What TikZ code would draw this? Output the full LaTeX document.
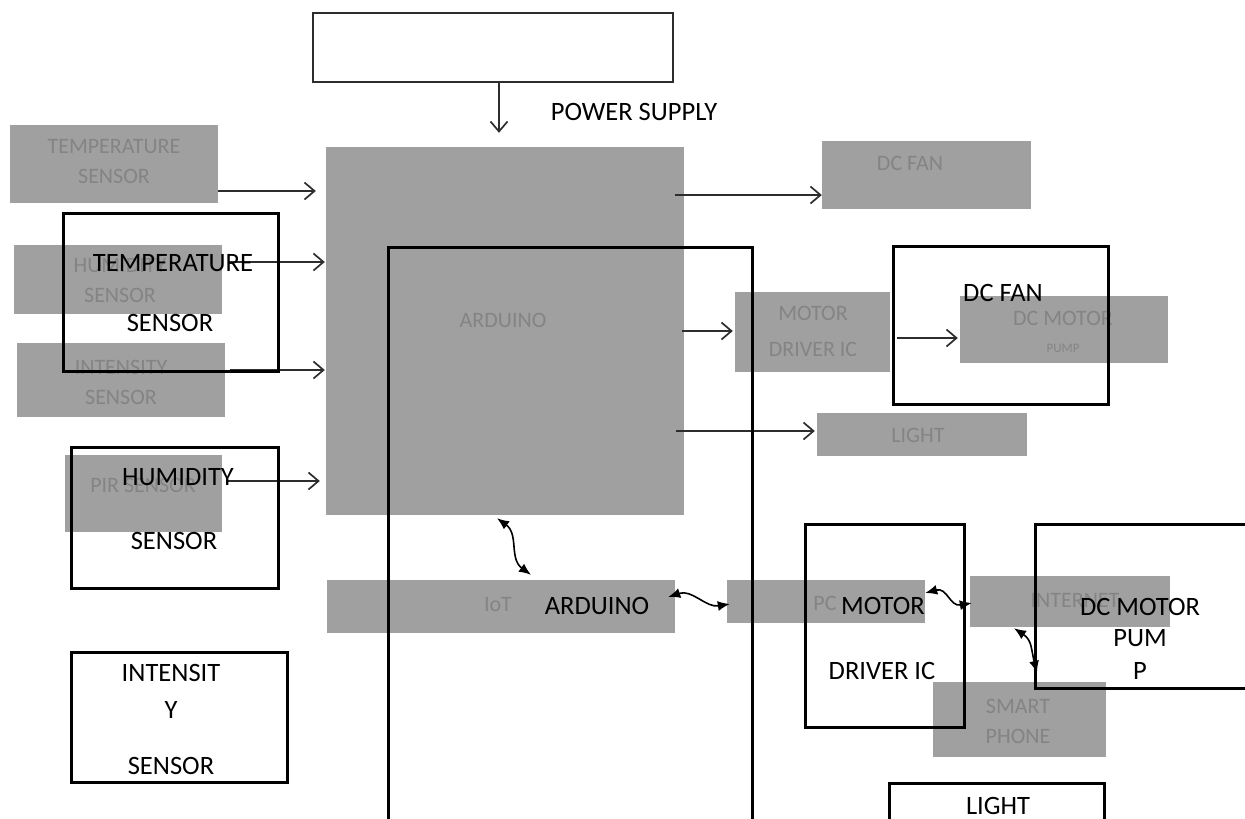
\documentclass[tikz,border=0pt]{standalone}
\usepackage{fontspec}
\setmainfont{Carlito}
\usetikzlibrary{arrows.meta}
\definecolor{gfill}{RGB}{160,160,160}
\definecolor{gtext}{RGB}{132,132,132}
\definecolor{arrcol}{RGB}{45,45,45}
\tikzset{
  gbox/.style={rectangle, fill=gfill, draw=none, inner sep=0pt, anchor=center},
  gtxt/.style={text=gtext, font=\fontsize{22}{30}\selectfont, align=center, inner sep=0pt},
  obox/.style={rectangle, draw=black, line width=3pt, fill=none, inner sep=0pt},
  btxt/.style={text=black, font=\fontsize{26.5}{30}\selectfont, inner sep=0pt},
  arr/.style={draw=arrcol, line width=1.7pt, -{Straight Barb[length=10pt,width=17pt,line width=1.7pt]}},
  darr/.style={draw=black, line width=1.6pt, {Latex[length=12pt,width=10pt]}-{Latex[length=12pt,width=10pt]}},
}
\begin{document}
\begin{tikzpicture}[x=1pt,y=-1pt]
\useasboundingbox (0,0) rectangle (1245,819);
\clip (0,0) rectangle (1245,819);
% gray (blurred) blocks
\node[gbox, minimum width=208pt, minimum height=78pt] (tempG) at (114,164) {};
\node[gbox, minimum width=208pt, minimum height=69pt] (humG) at (118,279.5) {};
\node[gbox, minimum width=208pt, minimum height=74pt] (intG) at (121,380) {};
\node[gbox, minimum width=157pt, minimum height=77pt] (pirG) at (143.5,493.5) {};
\node[gbox, minimum width=358pt, minimum height=368pt] (arduG) at (505,331) {};
\node[gbox, minimum width=209pt, minimum height=68pt] (fanG) at (926.5,175) {};
\node[gbox, minimum width=155pt, minimum height=80pt] (mdG) at (812.5,332) {};
\node[gbox, minimum width=208pt, minimum height=67pt] (pumpG) at (1064,329.5) {};
\node[gbox, minimum width=210pt, minimum height=43pt] (lightG) at (922,434.5) {};
\node[gbox, minimum width=348pt, minimum height=53pt] (iotG) at (501,606.5) {};
\node[gbox, minimum width=198pt, minimum height=43pt] (pcG) at (826,601.5) {};
\node[gbox, minimum width=200pt, minimum height=51pt] (netG) at (1070,601.5) {};
\node[gbox, minimum width=173pt, minimum height=75pt] (phoneG) at (1019.5,719.5) {};
% gray labels
\node[gtxt] (tempGt) at (114,162) {TEMPERATURE\\SENSOR};
\node[gtxt] (humGt) at (120,281) {HUMIDITY\\SENSOR};
\node[gtxt] (intGt) at (121,382) {INTENSITY\\SENSOR};
\node[gtxt] (pirGt) at (143,485) {PIR SENSOR};
\node[gtxt] (arduGt) at (503,320) {ARDUINO};
\node[gtxt] (fanGt) at (910,163) {DC FAN};
\node[gtxt, font=\fontsize{22}{36}\selectfont] (mdGt) at (813,331) {MOTOR\\DRIVER IC};
\node[gtxt] (pumpGt1) at (1063,318) {DC MOTOR};
\node[gtxt, font=\fontsize{13}{14}\selectfont] (pumpGt2) at (1063,348) {PUMP};
\node[gtxt] (lightGt) at (918,435) {LIGHT};
\node[gtxt] (iotGt) at (498,605) {IoT};
\node[gtxt] (pcGt) at (825,603) {PC};
\node[gtxt] (netGt) at (1075,600) {INTERNET};
\node[gtxt] (phoneGt) at (1018,721) {SMART\\PHONE};
% power supply box
\node[rectangle, draw=arrcol, line width=1.5pt, minimum width=360pt, minimum height=69pt, inner sep=0pt] (psO) at (493,47.5) {};
% straight arrows
\draw[arr] ([xshift=6]psO.south) -- ([xshift=-6,yshift=14]arduG.north);
\draw[arr] ([yshift=-27]tempG.east) -- ([xshift=-10,yshift=140]arduG.west);
\draw[arr] ([xshift=6,yshift=17.5]humG.east) -- ([xshift=-1,yshift=69]arduG.west);
\draw[arr] ([xshift=5,yshift=10]intG.east) -- ([xshift=-1,yshift=-39]arduG.west);
\draw[arr] ([xshift=6,yshift=12.5]pirG.east) -- ([xshift=-6,yshift=-150]arduG.west);
\draw[arr] ([xshift=-9,yshift=136]arduG.east) -- ([yshift=-20]fanG.west);
\draw[arr] ([xshift=-2]arduG.east) -- ([xshift=-2,yshift=1]mdG.west);
\draw[arr] ([xshift=-8,yshift=-100]arduG.east) -- ([xshift=-2,yshift=3.5]lightG.west);
\draw[arr] ([xshift=7,yshift=-6]mdG.east) -- ([xshift=-2,yshift=-8.5]pumpG.west);
% wavy double arrows
\draw[darr] ([xshift=-8,yshift=-3]arduG.south) .. controls +(22,16) and +(-22,-16) .. ([xshift=30,yshift=5]iotG.north);
\draw[darr] ([xshift=-7,yshift=9.5]iotG.east) .. controls +(24,-8) and +(-24,4) .. ([xshift=3,yshift=-2.5]pcG.west);
\draw[darr] ([yshift=8.5]pcG.east) .. controls +(22,-6) and +(-22,4) .. ([xshift=2,yshift=-1.5]netG.west);
\draw[darr] ([xshift=-56,yshift=-1]netG.south) .. controls +(18,12) and +(-6,-24) .. ([xshift=17.5,yshift=9]phoneG.north);
% outlined boxes
\node[obox, minimum width=215pt, minimum height=158pt] (tempO) at (170.5,292) {};
\node[obox, minimum width=207pt, minimum height=141pt] (humO) at (174.5,517.5) {};
\node[obox, minimum width=216pt, minimum height=130pt] (intO) at (179,717) {};
\node[obox, minimum width=364pt, minimum height=623pt] (arduO) at (570,558.5) {};
\node[obox, minimum width=215pt, minimum height=158pt] (fanO) at (1000.5,325) {};
\node[obox, minimum width=159pt, minimum height=203pt] (mdO) at (884.5,625.5) {};
\node[obox, minimum width=245pt, minimum height=164pt] (pumpO) at (1157.5,606) {};
\node[obox, minimum width=215pt, minimum height=77pt] (lightO) at (996.5,821.5) {};
% black labels
\node[btxt] (psT) at (634,112) {POWER SUPPLY};
\node[btxt] (tempT1) at (173,263) {TEMPERATURE};
\node[btxt] (tempT2) at (170,323) {SENSOR};
\node[btxt] (humT1) at (178,477) {HUMIDITY};
\node[btxt] (humT2) at (174,541) {SENSOR};
\node[btxt] (intT1) at (171,673) {INTENSIT};
\node[btxt] (intT2) at (171,710) {Y};
\node[btxt] (intT3) at (171,766) {SENSOR};
\node[btxt] (arduT) at (597,606) {ARDUINO};
\node[btxt] (fanT) at (1003,293) {DC FAN};
\node[btxt] (mdT1) at (883,606) {MOTOR};
\node[btxt] (mdT2) at (882,671) {DRIVER IC};
\node[btxt] (pumpT1) at (1140,607) {DC MOTOR};
\node[btxt] (pumpT2) at (1140,638) {PUM};
\node[btxt] (pumpT3) at (1140,671) {P};
\node[btxt] (lightT) at (998,806) {LIGHT};
\end{tikzpicture}
\end{document}
